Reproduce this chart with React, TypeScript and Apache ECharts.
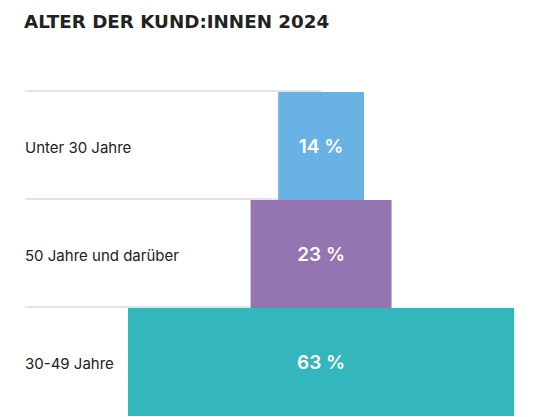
import React, { useEffect, useRef } from "react";
import * as echarts from "echarts";

const TITLE = "ALTER DER KUND:INNEN 2024";
const categories = ["Unter 30 Jahre", "50 Jahre und darüber", "30-49 Jahre"];
const shares = [14, 23, 63];
const colors = ["#68b3e3", "#9574b2", "#33b7bd"];

// layout: value axis 0..80 mapped over the bar grid; bars are centred on CENTER
const AXIS_MAX = 80;
const CENTER = 48.3;

const FONT = "Inter, 'Noto Sans', sans-serif";

export default function App() {
  const ref = useRef<HTMLDivElement>(null);
  useEffect(() => {
    if (!ref.current) return;
    const chart = echarts.init(ref.current, undefined, { renderer: "svg" });
    const offsets = shares.map((v) => CENTER - v / 2);
    chart.setOption({
      animation: false,
      title: {
        text: TITLE,
        left: 24,
        top: 12,
        padding: 0,
        textStyle: { fontFamily: "'DejaVu Sans', sans-serif", fontSize: 18.3, fontWeight: 700, color: "#222222" },
      },
      grid: [
        { left: 25, top: 91, width: 296, height: 324, containLabel: false },
        { left: 25, top: 92, width: 490.4, height: 324, containLabel: false },
      ],
      xAxis: [
        { type: "value", gridIndex: 0, min: 0, max: 1, show: false },
        { type: "value", gridIndex: 1, min: 0, max: AXIS_MAX, show: false },
      ],
      yAxis: [
        {
          type: "category",
          gridIndex: 0,
          data: categories,
          inverse: true,
          axisLine: { show: false },
          axisTick: { show: false },
          axisLabel: {
            inside: true,
            margin: 0,
            align: "left",
            formatter: (v: string) => `{a|${v}}`,
            rich: {
              a: {
                fontFamily: FONT,
                fontSize: 15,
                color: "#222222",
                padding: [5, 0, 0, 0],
              },
            },
          },
          splitLine: {
            show: true,
            showMaxLine: false,
            lineStyle: { color: "#e4e4e4", width: 2 },
          },
        },
        {
          type: "category",
          gridIndex: 1,
          data: categories,
          inverse: true,
          show: false,
        },
      ],
      series: [
        {
          type: "bar",
          xAxisIndex: 1,
          yAxisIndex: 1,
          stack: "s",
          data: offsets,
          barCategoryGap: 0,
          itemStyle: { color: "transparent" },
          silent: true,
        },
        {
          type: "bar",
          xAxisIndex: 1,
          yAxisIndex: 1,
          stack: "s",
          barCategoryGap: 0,
          data: shares.map((v, i) => ({ value: v, itemStyle: { color: colors[i] } })),
          label: {
            show: true,
            position: "inside",
            formatter: (p: any) => `${p.value} %`,
            fontFamily: FONT,
            fontSize: 19,
            fontWeight: 600,
            color: "#ffffff",
          },
        },
      ],
    });
    return () => chart.dispose();
  }, []);
  return <div ref={ref} style={{ width: 554, height: 417, position: "absolute", left: 0, top: 0 }} />;
}
